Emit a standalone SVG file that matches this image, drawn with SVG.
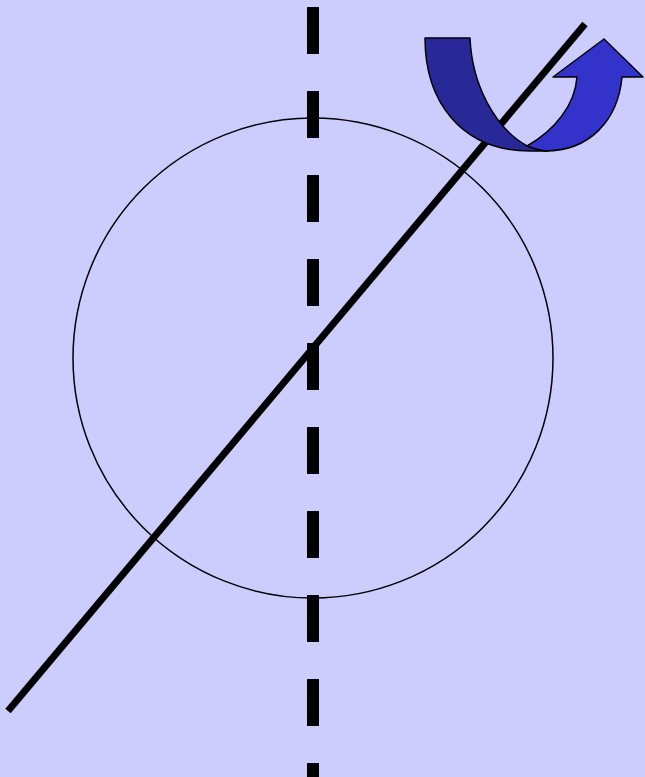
<svg xmlns="http://www.w3.org/2000/svg" width="645" height="777" viewBox="0 0 645 777">
<style>
.ol{stroke:#000;stroke-width:1.5;stroke-linejoin:round}
</style>
<rect width="645" height="777" fill="#CCCCFF"/>
<g id="circle"><circle cx="313" cy="358" r="240" fill="none" stroke="#000" stroke-width="1.5"/></g>
<g id="axis"><line x1="313" y1="7" x2="313" y2="777" stroke="#000" stroke-width="12" stroke-dasharray="47 37"/></g>
<g id="tilted-axis"><line x1="8" y1="711" x2="585" y2="24" stroke="#000" stroke-width="7"/></g>
<g id="rotation-arrow">
<path class="ol" fill="#282899" d="M425,38 L470,38 C472,85 495,128 527,146 C534,149 541,150 548,151 L530,151 C460,151 425,100 425,38 Z"/>
<path class="ol" fill="#3333CC" d="M527,146 C555,130 575,105 577,77 L553,77 L604,39 L643,77 L622,77 C618,120 590,151 545,151 C538,150 532,148 527,146 Z"/>
</g>
</svg>
